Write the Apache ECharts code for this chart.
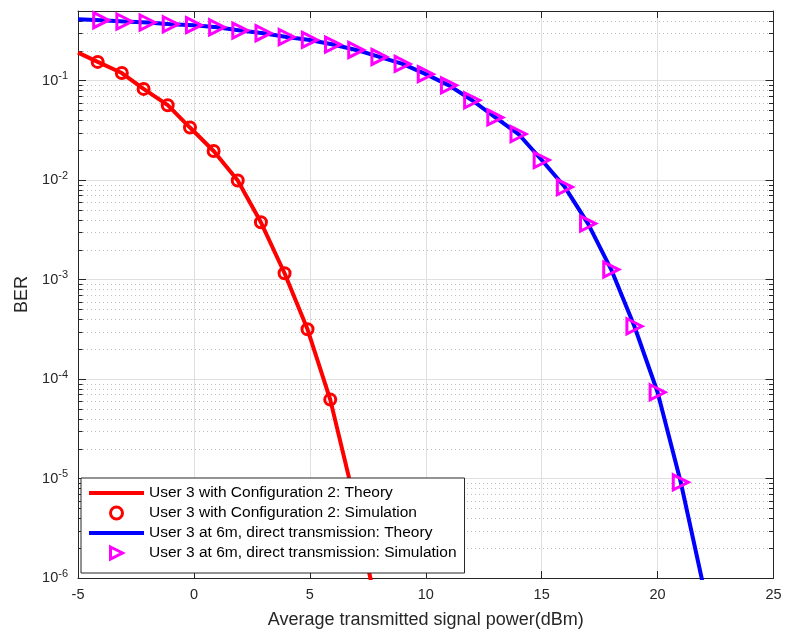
<!DOCTYPE html>
<html>
<head>
<meta charset="utf-8">
<script src="https://cdn.jsdelivr.net/npm/echarts@6/dist/echarts.min.js"></script>
<style>html,body{margin:0;padding:0;background:#fff;}#c{width:789px;height:637px;}</style>
</head>
<body>
<div id="c"></div>
<script>
// ---------------- data ----------------
const seriesNames = [
  'User 3 with Configuration 2: Theory',
  'User 3 with Configuration 2: Simulation',
  'User 3 at 6m, direct transmission: Theory',
  'User 3 at 6m, direct transmission: Simulation'
];
const redTheoryX = [-5, -4.15, -3.11, -2.17, -1.13, -0.17, 0.85, 1.89, 2.89, 3.91, 4.9, 5.88, 6.68, 7.61, 7.9];
const redTheoryY = [0.191, 0.154, 0.119, 0.0824, 0.0565, 0.0337, 0.0196, 0.00989, 0.00376, 0.001156, 3.16e-4, 6.21e-5, 1.04e-5, 1e-6, 4.6e-7];
const redSimX = [-4.15, -3.11, -2.17, -1.13, -0.17, 0.85, 1.89, 2.89, 3.91, 4.9, 5.88];
const redSimY = [0.154, 0.119, 0.0824, 0.0565, 0.0337, 0.0196, 0.00989, 0.00376, 0.001156, 3.16e-4, 6.21e-5];
const blueTheoryX = [-5, -4, -3, -2, -1, 0, 1, 2, 3, 4, 5, 6, 7, 8, 9, 10, 11, 12, 13, 14, 15, 16, 17, 18, 19, 20, 21, 21.9, 22.2];
const blueTheoryY = [0.413, 0.404, 0.392, 0.383, 0.368, 0.360, 0.343, 0.318, 0.299, 0.274, 0.256, 0.230, 0.203, 0.1726, 0.147, 0.116, 0.0895, 0.0634, 0.0426, 0.029, 0.0159, 0.0085, 0.00365, 0.00126, 3.39e-4, 7.36e-5, 9.16e-6, 1e-6, 4.5e-7];
const blueSimX = [-4, -3, -2, -1, 0, 1, 2, 3, 4, 5, 6, 7, 8, 9, 10, 11, 12, 13, 14, 15, 16, 17, 18, 19, 20, 21];
const blueSimY = [0.404, 0.392, 0.383, 0.368, 0.360, 0.343, 0.318, 0.299, 0.274, 0.256, 0.230, 0.203, 0.1726, 0.147, 0.116, 0.0895, 0.0634, 0.0426, 0.029, 0.0159, 0.0085, 0.00365, 0.00126, 3.39e-4, 7.36e-5, 9.16e-6];
const xMin = -5, xMax = 25, xStep = 5;
const yMin = 1e-6, yMax = 0.5;
const xName = 'Average transmitted signal power(dBm)';
const yName = 'BER';

// minor log ticks (2..9 x each decade) inside the y range
const minorVals = [];
for (let e = -6; e <= -1; e++) {
  for (let m = 2; m <= 9; m++) {
    const v = m * Math.pow(10, e);
    if (v > yMin && v < yMax) minorVals.push(v);
  }
}

const zip = (a, b) => a.map((v, i) => [v, b[i]]);
const FONT = '"Liberation Sans", Arial, Helvetica, sans-serif';
const AX = '#262626';
const triPath = 'path://M0,0L10,5L0,10Z';

const chart = echarts.init(document.getElementById('c'), null, {renderer: 'canvas'});
chart.setOption({
  animation: false,
  backgroundColor: '#fff',
  textStyle: {fontFamily: FONT},
  grid: {left: 78, right: 15.5, top: 11, bottom: 59, containLabel: false},
  legend: {
    orient: 'vertical', left: 81, top: 478,
    padding: [7, 8, 12, 8], itemGap: 4, itemWidth: 55, itemHeight: 12,
    backgroundColor: '#fff', borderColor: AX, borderWidth: 1,
    textStyle: {fontSize: 15.5, color: '#000', fontFamily: FONT},
    selectedMode: false, z: 10,
    data: [
      {name: seriesNames[0], icon: 'path://M0,0H55V4H0Z', itemStyle: {color: '#ff0000', borderWidth: 0}},
      {name: seriesNames[1], icon: 'circle', itemStyle: {color: '#ffffff', borderColor: '#ff0000', borderWidth: 3}},
      {name: seriesNames[2], icon: 'path://M0,0H55V4H0Z', itemStyle: {color: '#0000ff', borderWidth: 0}},
      {name: seriesNames[3], icon: triPath, itemStyle: {color: '#ffffff', borderColor: '#ff00ff', borderWidth: 3}}
    ]
  },
  xAxis: [{
    type: 'value', min: xMin, max: xMax, interval: xStep,
    name: xName, nameLocation: 'middle', nameGap: 33,
    nameTextStyle: {fontSize: 18, color: AX, fontFamily: FONT},
    axisLine: {show: true, onZero: false, lineStyle: {color: AX, width: 1}},
    axisTick: {show: true, inside: true, length: 7, lineStyle: {color: AX}},
    axisLabel: {fontSize: 14.5, color: AX, margin: 9, fontFamily: FONT},
    splitLine: {show: true, lineStyle: {color: '#dfdfdf', width: 1}}
  }, {
    type: 'value', position: 'top', min: xMin, max: xMax, interval: xStep,
    axisLine: {show: true, onZero: false, lineStyle: {color: AX, width: 1}},
    axisTick: {show: true, inside: true, length: 7, lineStyle: {color: AX}},
    axisLabel: {show: false}, splitLine: {show: false}
  }],
  yAxis: [{
    type: 'log', logBase: 10, min: yMin, max: yMax, splitNumber: 6,
    name: yName, nameLocation: 'middle', nameGap: 47, nameRotate: 90,
    nameTextStyle: {fontSize: 18, color: AX, fontFamily: FONT},
    axisLine: {show: true, onZero: false, lineStyle: {color: AX, width: 1}},
    axisTick: {show: true, inside: true, length: 8, lineStyle: {color: AX}},
    axisLabel: {
      margin: 10, color: AX,
      formatter: function (v) {
        const l = Math.log10(v), e = Math.round(l);
        if (Math.abs(l - e) > 1e-6) return '';
        return '{b|10}{s|' + e + '}';
      },
      rich: {
        b: {fontSize: 14.5, color: AX, fontFamily: FONT},
        s: {fontSize: 11, color: AX, fontFamily: FONT, padding: [0, 0, 9, 0]}
      }
    },
    splitLine: {show: true, lineStyle: {color: '#dfdfdf', width: 1}}
  }, {
    type: 'log', logBase: 10, min: yMin, max: yMax, splitNumber: 6, position: 'right',
    axisLine: {show: true, onZero: false, lineStyle: {color: AX, width: 1}},
    axisTick: {show: true, inside: true, length: 8, lineStyle: {color: AX}},
    axisLabel: {show: false}, splitLine: {show: false}
  }],
  series: [
    {
      type: 'custom', name: 'minor', silent: true, z: 1,
      xAxisIndex: 0, yAxisIndex: 0,
      data: minorVals.map(v => [xMin, v]),
      encode: {x: 0, y: 1},
      renderItem: function (params, api) {
        const v = api.value(1);
        const p0 = api.coord([xMin, v]);
        const p1 = api.coord([xMax, v]);
        const y = Math.round(p0[1]) + 0.5;
        return {
          type: 'group',
          children: [
            {type: 'line', shape: {x1: p0[0] + 1, y1: y, x2: p1[0] - 1, y2: y},
             style: {stroke: '#bdbdbd', lineWidth: 1, lineDash: [1, 3]}},
            {type: 'line', shape: {x1: p0[0], y1: y, x2: p0[0] + 4.5, y2: y},
             style: {stroke: AX, lineWidth: 1}},
            {type: 'line', shape: {x1: p1[0] - 4.5, y1: y, x2: p1[0], y2: y},
             style: {stroke: AX, lineWidth: 1}}
          ]
        };
      }
    },
    {
      name: seriesNames[0], type: 'line', data: zip(redTheoryX, redTheoryY),
      symbol: 'none', clip: true, z: 3,
      lineStyle: {color: '#ff0000', width: 4}, itemStyle: {color: '#ff0000'}
    },
    {
      name: seriesNames[1], type: 'scatter', data: zip(redSimX, redSimY),
      symbol: 'circle', symbolSize: 11, z: 4,
      itemStyle: {color: 'rgba(255,255,255,0)', borderColor: '#ff0000', borderWidth: 3, opacity: 1}
    },
    {
      name: seriesNames[2], type: 'line', data: zip(blueTheoryX, blueTheoryY),
      symbol: 'none', clip: true, z: 3,
      lineStyle: {color: '#0000ff', width: 4}, itemStyle: {color: '#0000ff'}
    },
    {
      name: seriesNames[3], type: 'scatter', data: zip(blueSimX, blueSimY),
      symbol: triPath, symbolSize: 15, z: 4,
      itemStyle: {color: 'rgba(255,255,255,0)', borderColor: '#ff00ff', borderWidth: 3, opacity: 1}
    }
  ]
});
</script>
</body>
</html>
